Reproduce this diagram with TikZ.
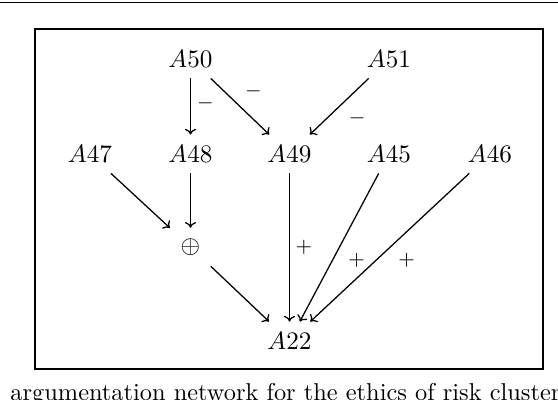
\documentclass[tikz,border=0pt]{standalone}
\usetikzlibrary{arrows.meta}
\begin{document}
\begin{tikzpicture}[x=0.43478pt,y=-0.43478pt,
  argnode/.style={inner sep=4.5pt,font=\fontsize{11.4}{13}\selectfont},
  arr/.style={-{To[width=4.8pt,length=2.5pt]},line width=0.55pt},
  lab/.style={inner sep=0pt,font=\fontsize{9.5}{11}\selectfont}]
\useasboundingbox (0,0) rectangle (558,400);
% top rule and frame
\draw[line width=0.5pt] (0,2.5) -- (558,2.5);
\draw[line width=0.6pt] (35,29) rectangle (543,369);
% nodes
\node[argnode] (A50) at (190.5,59) {$A50$};
\node[argnode] (A51) at (389,59) {$A51$};
\node[argnode] (A47) at (90,154) {$A47$};
\node[argnode] (A48) at (190.5,154) {$A48$};
\node[argnode] (A49) at (289.5,154) {$A49$};
\node[argnode] (A45) at (389,154) {$A45$};
\node[argnode] (A46) at (490,154) {$A46$};
\node[argnode] (op) at (190.5,247) {$\oplus$};
\node[argnode] (A22) at (289.5,341) {$A22$};
% connectors
\draw[arr] (A50) -- node[lab,midway,shift={(15,-3.5)}] {$-$} (A48);
\draw[arr] (A50) -- node[lab,midway,shift={(13.5,-15.5)}] {$-$} (A49);
\draw[arr] (A51) -- node[lab,midway,shift={(18,11.5)}] {$-$} (A49);
\draw[arr] (A47) -- (op);
\draw[arr] (A48) -- (op);
\draw[arr] (op) -- (A22);
\draw[arr] (A49) -- node[lab,midway,shift={(14.5,0)}] {$+$} (A22);
\draw[arr] (A45) -- node[lab,midway,shift={(17.5,12.5)}] {$+$} (A22);
\draw[arr] (A46) -- node[lab,midway,shift={(17,12.5)}] {$+$} (A22);
% caption (cut off at the bottom edge, as in the reference)
\node[anchor=base west,inner sep=0pt,font=\fontsize{10.6}{12}\selectfont] (cap) at (10,400.5) {argumentation network for the ethics of risk cluster};
\end{tikzpicture}
\end{document}
